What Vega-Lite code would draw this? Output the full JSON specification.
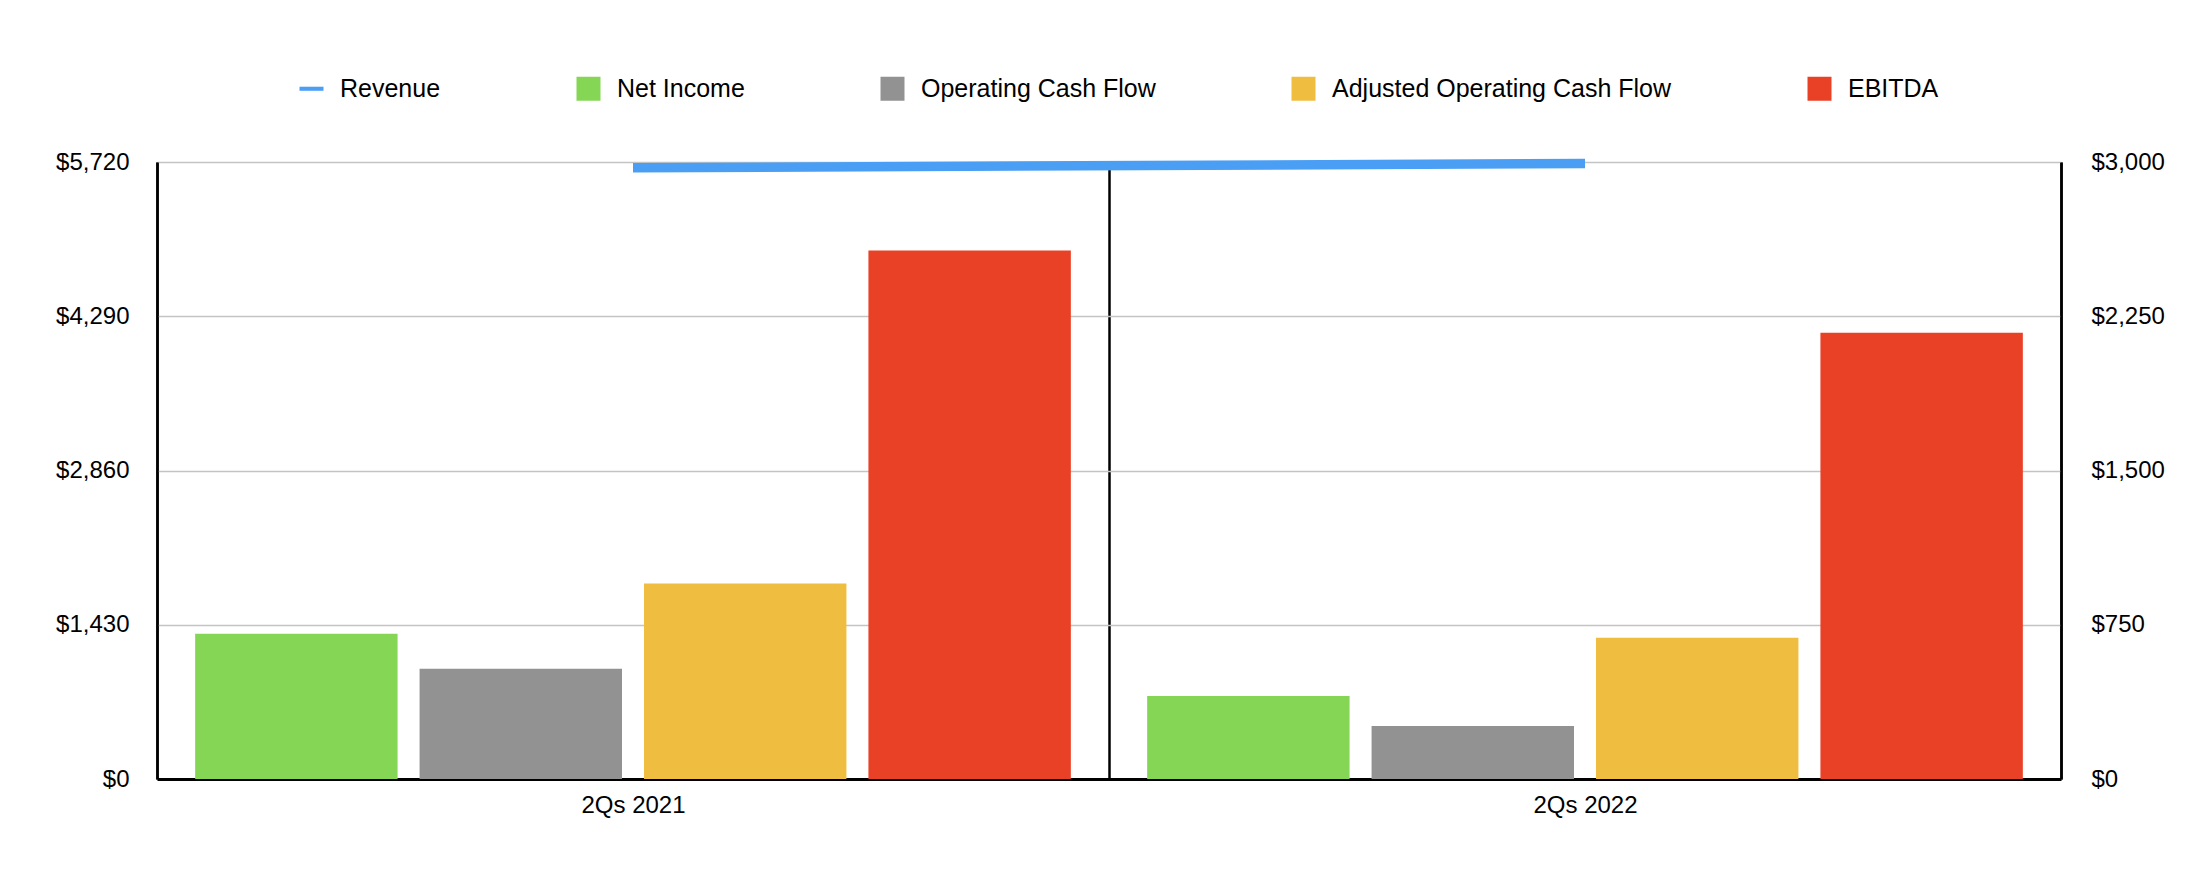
{
  "$schema": "https://vega.github.io/schema/vega-lite/v6.json",
  "width": 1904,
  "height": 617,
  "autosize": {"type": "none"},
  "padding": {"left": 157, "top": 162, "right": 139, "bottom": 101},
  "background": "white",
  "config": {"view": {"stroke": null}, "font": "Liberation Sans"},
  "data": {
    "values": [
      {"period": "2Qs 2021", "series": "Revenue", "value": 5667},
      {"period": "2Qs 2022", "series": "Revenue", "value": 5706},
      {"period": "2Qs 2021", "series": "Net Income", "value": 706},
      {"period": "2Qs 2021", "series": "Operating Cash Flow", "value": 536},
      {"period": "2Qs 2021", "series": "Adjusted Operating Cash Flow", "value": 950},
      {"period": "2Qs 2021", "series": "EBITDA", "value": 2570},
      {"period": "2Qs 2022", "series": "Net Income", "value": 404},
      {"period": "2Qs 2022", "series": "Operating Cash Flow", "value": 258},
      {"period": "2Qs 2022", "series": "Adjusted Operating Cash Flow", "value": 687},
      {"period": "2Qs 2022", "series": "EBITDA", "value": 2170}
    ]
  },
  "encoding": {
    "x": {
      "field": "period",
      "type": "nominal",
      "sort": ["2Qs 2021", "2Qs 2022"],
      "scale": {"paddingInner": 0, "paddingOuter": 0},
      "axis": {
        "title": null,
        "labelAngle": 0,
        "labelFontSize": 24,
        "labelColor": "black",
        "labelPadding": 14,
        "ticks": false,
        "grid": true,
        "tickBand": "extent",
        "gridColor": "black",
        "gridWidth": 2.5,
        "domainColor": "black",
        "domainWidth": 3
      }
    },
    "color": {
      "field": "series",
      "type": "nominal",
      "scale": {
        "domain": ["Revenue", "Net Income", "Operating Cash Flow", "Adjusted Operating Cash Flow", "EBITDA"],
        "range": ["#4a9ff5", "#85d655", "#929292", "#efbd40", "#e94126"]
      },
      "legend": {
        "title": null,
        "orient": "none",
        "legendX": 142,
        "legendY": -86,
        "direction": "horizontal",
        "columnPadding": 135,
        "labelFontSize": 25,
        "labelColor": "black",
        "labelOffset": 16,
        "labelLimit": 600,
        "symbolType": "square",
        "symbolSize": 576,
        "symbolOpacity": 1,
        "symbolStrokeWidth": 0,
        "encode": {
          "symbols": {
            "update": {
              "shape": {"signal": "datum.value === 'Revenue' ? 'M-1,-0.17H1V0.17H-1Z' : 'square'"},
              "fill": {"scale": "color", "field": "value"},
              "strokeWidth": {"value": 0},
              "opacity": {"value": 1}
            }
          }
        }
      }
    }
  },
  "layer": [
    {
      "transform": [{"filter": "datum.series !== 'Revenue'"}],
      "mark": {"type": "bar"},
      "encoding": {
        "xOffset": {
          "field": "series",
          "type": "nominal",
          "sort": ["Net Income", "Operating Cash Flow", "Adjusted Operating Cash Flow", "EBITDA"],
          "scale": {"paddingInner": 0.098, "paddingOuter": 0.17}
        },
        "y": {
          "field": "value",
          "type": "quantitative",
          "scale": {"domain": [0, 3000], "nice": false},
          "axis": {
            "orient": "right",
            "title": null,
            "values": [0, 750, 1500, 2250, 3000],
            "format": "$,.0f",
            "labelFontSize": 24,
            "labelColor": "black",
            "labelPadding": 30,
            "ticks": false,
            "grid": false,
            "domainColor": "black",
            "domainWidth": 2.5
          }
        }
      }
    },
    {
      "transform": [{"filter": "datum.series === 'Revenue'"}],
      "mark": {"type": "line", "strokeWidth": 9.5, "strokeCap": "butt"},
      "encoding": {
        "y": {
          "field": "value",
          "type": "quantitative",
          "scale": {"domain": [0, 5720], "nice": false},
          "axis": {
            "orient": "left",
            "title": null,
            "values": [0, 1430, 2860, 4290, 5720],
            "format": "$,.0f",
            "labelFontSize": 24,
            "labelColor": "black",
            "labelPadding": 28,
            "ticks": false,
            "grid": true,
            "gridColor": "#c4c4c4",
            "gridWidth": 1.5,
            "domainColor": "black",
            "domainWidth": 2.5
          }
        }
      }
    }
  ],
  "resolve": {"scale": {"y": "independent"}}
}
